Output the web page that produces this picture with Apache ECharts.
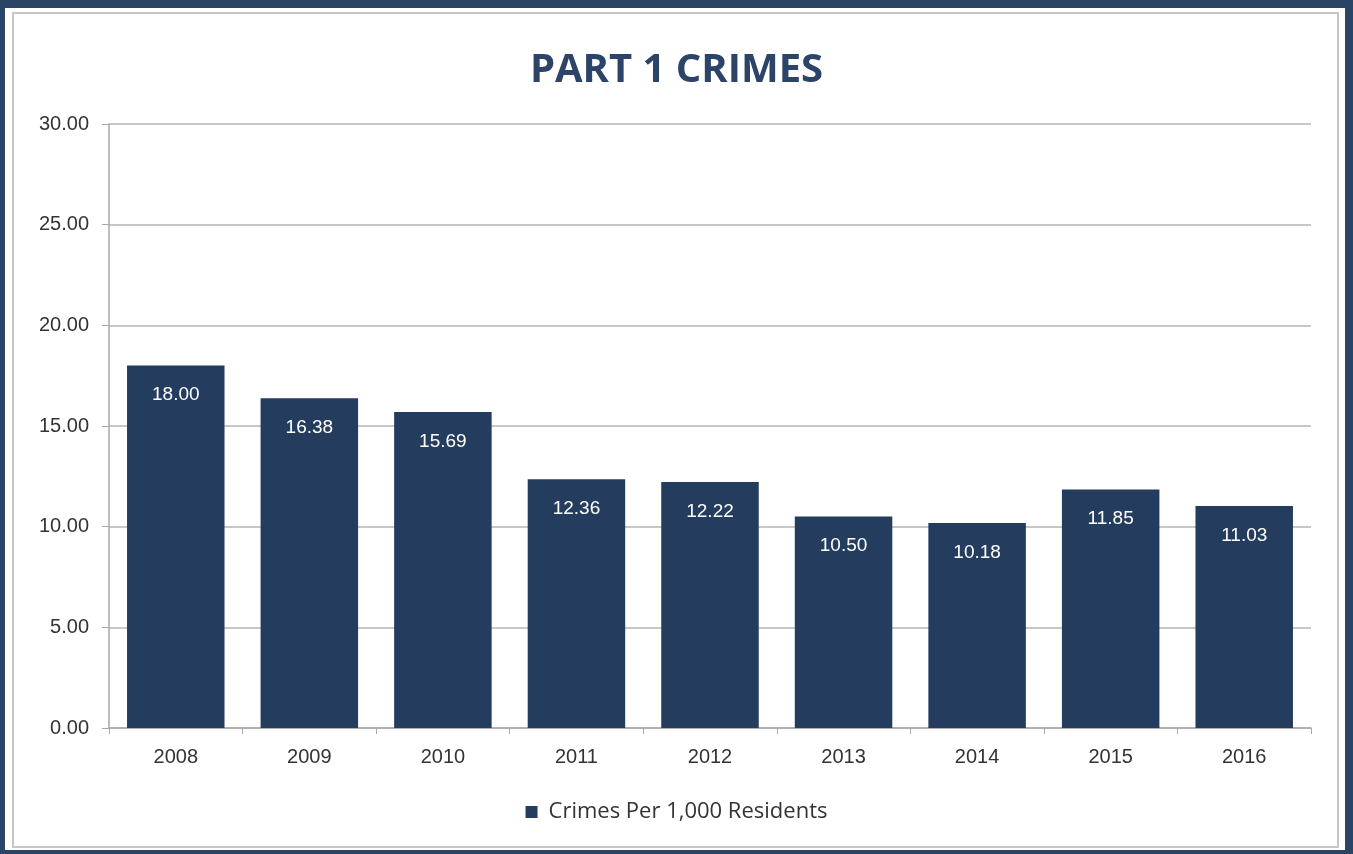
<!DOCTYPE html>
<html>
<head>
<meta charset="utf-8">
<script src="https://cdn.jsdelivr.net/npm/echarts@6/dist/echarts.min.js"></script>
<style>
html,body{margin:0;padding:0;background:#fff;}
#c{width:1353px;height:854px;}
</style>
</head>
<body>
<div id="c"></div>
<script>
const categories = ['2008','2009','2010','2011','2012','2013','2014','2015','2016'];
const crimesPer1000 = [18.00, 16.38, 15.69, 12.36, 12.22, 10.50, 10.18, 11.85, 11.03];
const seriesName = 'Crimes Per 1,000 Residents';
const titleText = 'PART 1 CRIMES';

const navy = '#243c5e';
const chart = echarts.init(document.getElementById('c'), null, {renderer:'canvas'});

chart.setOption({
  animation: false,
  backgroundColor: 'transparent',
  graphic: [
    {type:'rect', z:-10, shape:{x:0,y:0,width:1353,height:854}, style:{fill:'#2a4466'}, silent:true},
    {type:'rect', z:-9, shape:{x:5,y:8,width:1340,height:842}, style:{fill:'#ffffff'}, silent:true},
    {type:'rect', z:-8, shape:{x:13,y:13,width:1325,height:834}, style:{fill:'none', stroke:'#c6c6c6', lineWidth:2}, silent:true}
  ],
  title: {
    text: titleText,
    left: 'center',
    top: 46,
    textStyle: {fontFamily:'Open Sans', fontWeight:'bold', fontSize:40, color:'#2b4468'}
  },
  legend: {
    data: [seriesName],
    top: 796,
    left: 'center',
    icon: 'rect',
    itemWidth: 12,
    itemHeight: 12,
    itemGap: 11,
    textStyle: {fontFamily:'Open Sans', fontSize:22, color:'#333', padding:[0,0,0,6]}
  },
  grid: {left:109, right:42, top:124, bottom:126, containLabel:false},
  xAxis: {
    type: 'category',
    data: categories,
    axisLine: {show:true, lineStyle:{color:'#a9a9a9', width:1.5}},
    axisTick: {show:true, alignWithLabel:false, length:6, lineStyle:{color:'#a9a9a9'}},
    axisLabel: {fontFamily:'Liberation Sans', fontSize:20, color:'#333', margin:19}
  },
  yAxis: {
    type: 'value',
    min: 0, max: 30, interval: 5,
    axisLine: {show:true, lineStyle:{color:'#a9a9a9', width:1.5}},
    axisTick: {show:true, length:7, lineStyle:{color:'#a9a9a9'}},
    splitLine: {show:true, lineStyle:{color:'#b5b5b5', width:1.5}},
    axisLabel: {fontFamily:'Liberation Sans', fontSize:20, color:'#333', margin:20,
      formatter: v => v.toFixed(2)}
  },
  series: [{
    name: seriesName,
    type: 'bar',
    data: crimesPer1000,
    barWidth: '73%',
    itemStyle: {color: navy},
    label: {
      show: true,
      position: 'insideTop',
      distance: 20,
      color: '#ffffff',
      fontFamily: 'Liberation Sans',
      fontSize: 19,
      formatter: p => Number(p.value).toFixed(2)
    }
  }]
});
</script>
</body>
</html>
